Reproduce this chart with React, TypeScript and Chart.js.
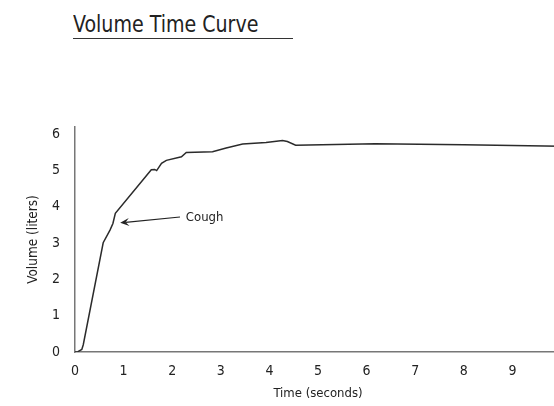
import React, { useEffect, useRef } from "react";
import { Chart, registerables } from "chart.js";

Chart.register(...registerables);

const chartTitle = "Volume Time Curve";
const xAxisTitle = "Time (seconds)";
const yAxisTitle = "Volume (liters)";

const timeSeconds = [0, 0.06, 0.14, 0.17, 0.58, 0.72, 0.78, 0.83, 1.57, 1.64, 1.68, 1.78, 1.88, 2.19, 2.29, 2.83, 3.11, 3.45, 3.93, 4.27, 4.37, 4.54, 6.18, 8.0, 10.0];
const volumeLiters = [0, 0.01, 0.07, 0.2, 3.01, 3.36, 3.54, 3.82, 5.02, 5.03, 5.0, 5.2, 5.28, 5.38, 5.5, 5.52, 5.62, 5.73, 5.77, 5.83, 5.8, 5.7, 5.74, 5.71, 5.67];

const coughLabel = "Cough";
const coughArrowTip = [0.93, 3.56];
const coughArrowTail = [2.16, 3.72];
const coughTextAt = [2.28, 3.7];

const FONT = "'DejaVu Sans Condensed', 'Liberation Sans Narrow', 'Roboto', sans-serif";

const coughPlugin = {
  id: "cough",
  afterDatasetsDraw(chart: any) {
    const { ctx, scales } = chart;
    const x = scales.x;
    const y = scales.y;
    const tx = x.getPixelForValue(coughArrowTip[0]);
    const ty = y.getPixelForValue(coughArrowTip[1]);
    const sx = x.getPixelForValue(coughArrowTail[0]);
    const sy = y.getPixelForValue(coughArrowTail[1]);
    const ang = Math.atan2(ty - sy, tx - sx);
    const headLen = 9;
    const headW = 4;
    ctx.save();
    ctx.strokeStyle = "#222";
    ctx.fillStyle = "#222";
    ctx.lineWidth = 1.2;
    ctx.beginPath();
    ctx.moveTo(sx, sy);
    ctx.lineTo(tx - Math.cos(ang) * headLen * 0.6, ty - Math.sin(ang) * headLen * 0.6);
    ctx.stroke();
    const bx = tx - Math.cos(ang) * headLen;
    const by = ty - Math.sin(ang) * headLen;
    ctx.beginPath();
    ctx.moveTo(tx, ty);
    ctx.lineTo(bx - Math.sin(ang) * headW, by + Math.cos(ang) * headW);
    ctx.lineTo(tx - Math.cos(ang) * headLen * 0.6, ty - Math.sin(ang) * headLen * 0.6);
    ctx.lineTo(bx + Math.sin(ang) * headW, by - Math.cos(ang) * headW);
    ctx.closePath();
    ctx.fill();
    ctx.font = `13px ${FONT}`;
    ctx.textBaseline = "middle";
    ctx.textAlign = "left";
    ctx.fillText(coughLabel, x.getPixelForValue(coughTextAt[0]), y.getPixelForValue(coughTextAt[1]));
    ctx.restore();
  },
};

export default function App() {
  const canvasRef = useRef<HTMLCanvasElement | null>(null);

  useEffect(() => {
    const canvas = canvasRef.current;
    if (!canvas) return;
    const data = timeSeconds.map((t, i) => ({ x: t, y: volumeLiters[i] }));
    const chart = new Chart(canvas, {
      type: "scatter",
      data: {
        datasets: [
          {
            data,
            showLine: true,
            borderColor: "#2b2b2b",
            borderWidth: 1.5,
            pointRadius: 0,
            tension: 0,
            fill: false,
          },
        ],
      },
      options: {
        responsive: false,
        animation: false,
        devicePixelRatio: 1,
        layout: { padding: { left: 0, right: 29, top: 127, bottom: 0 } },
        plugins: { legend: { display: false }, tooltip: { enabled: false }, title: { display: false } },
        scales: {
          x: {
            type: "linear",
            min: 0,
            max: 10,
            grid: { display: false, drawTicks: false },
            border: { display: true, color: "#777", width: 1.5 },
            ticks: { stepSize: 1, padding: 11, color: "#222", font: { family: FONT, size: 14 }, maxRotation: 0 },
            title: { display: true, text: xAxisTitle, color: "#222", font: { family: FONT, size: 13 }, padding: { top: 0, bottom: 5 } },
            afterFit: (s: any) => { s.height = 54; },
          },
          y: {
            type: "linear",
            min: 0,
            max: 6.2,
            grid: { display: false, drawTicks: false },
            border: { display: true, color: "#777", width: 1.5 },
            ticks: { stepSize: 1, includeBounds: false, padding: 15, color: "#222", font: { family: FONT, size: 14 } },
            title: { display: true, text: yAxisTitle, color: "#222", font: { family: FONT, size: 13.5 }, padding: { top: 25, bottom: 0 } },
            afterFit: (s: any) => { s.width = 75; },
          },
        },
      },
      plugins: [coughPlugin],
    });
    return () => chart.destroy();
  }, []);

  return (
    <div style={{ position: "fixed", left: 0, top: 0, width: 554, height: 406, overflow: "hidden", background: "#fff" }}>
      <div style={{ position: "absolute", left: 73, top: 11, width: 220, borderBottom: "1.5px solid #333", paddingBottom: 0 }}>
        <div
          style={{
            fontFamily: FONT,
            fontSize: 23,
            lineHeight: "27px",
            color: "#222",
            transform: "scaleX(0.92)",
            transformOrigin: "left center",
            whiteSpace: "nowrap",
          }}
        >
          {chartTitle}
        </div>
      </div>
      <canvas ref={canvasRef} width={590} height={406} style={{ position: "absolute", left: 0, top: 0 }} />
    </div>
  );
}
